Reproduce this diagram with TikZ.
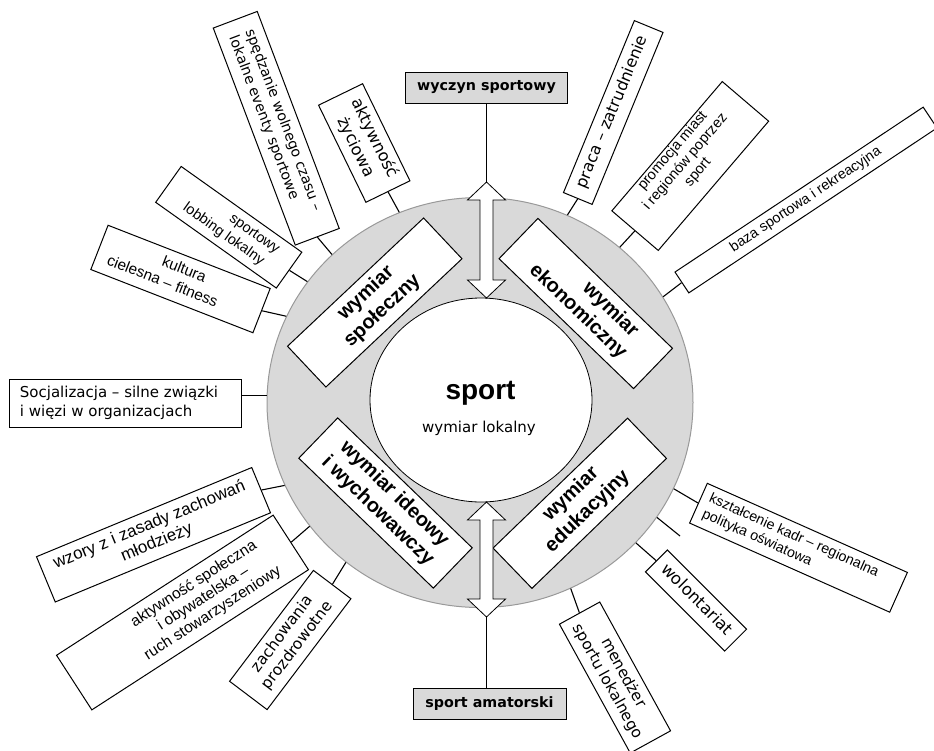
\documentclass[tikz,border=0pt]{standalone}
\usepackage{fontspec}
\setmainfont{Liberation Sans}
\newfontfamily\dejavu{DejaVu Sans}
\usetikzlibrary{shapes.geometric}
\definecolor{ringfill}{HTML}{D9D9D9}
\definecolor{ringline}{HTML}{999999}
\newcommand{\tbx}[4]{\raisebox{\dimexpr #3-0.25em\relax}[0pt][0pt]{\makebox[0pt]{\hspace*{#2}\begin{tabular}{@{}#1@{}}#4\end{tabular}}}}
\tikzset{
  obox/.style={draw, fill=white, line width=1pt, inner sep=0pt},
  dimbox/.style={obox, minimum width=187pt, minimum height=56pt, font=\fontsize{20}{24}\selectfont\bfseries},
  conn/.style={line width=1.1pt},
  gbox/.style={draw, fill=ringfill, line width=1pt, inner sep=0pt, font=\dejavu\bfseries\fontsize{14.3}{17}\selectfont},
  hollow/.style={draw, line width=0.8pt, fill=white},
}
\begin{document}
\begin{tikzpicture}[x=1pt,y=-1pt]
\useasboundingbox (0,0) rectangle (934,750);
% central rings
\node[ellipse, draw=ringline, fill=ringfill, line width=1pt, minimum width=426pt, minimum height=410pt, inner sep=0pt] (ring) at (480,402.5) {};
\node[ellipse, draw, fill=white, line width=0.8pt, minimum width=222pt, minimum height=204pt, inner sep=0pt] (core) at (481,400) {};
\node[font=\fontsize{28}{30}\selectfont\bfseries, anchor=base, inner sep=0pt] (sport) at (480.5,399) {sport};
\node[font=\dejavu\fontsize{15}{18}\selectfont, anchor=base, inner sep=0pt] (lok) at (479,432.5) {wymiar lokalny};
% dimension boxes
\node[dimbox, rotate=43.3] (spol) at (374.75,302.5) {\tbx{c}{0pt}{0pt}{wymiar\\społeczny}};
\node[dimbox, rotate=-44] (ekon) at (585.75,303.5) {\tbx{c}{0pt}{0pt}{\hspace*{44pt}wymiar\\ekonomiczny}};
\node[dimbox, rotate=-44] (ideo) at (385.5,503) {\tbx{c}{0pt}{0pt}{wymiar ideowy\\i wychowawczy}};
\node[dimbox, rotate=44] (eduk) at (579.75,503.25) {\tbx{c}{0pt}{0pt}{wymiar\\edukacyjny}};
% hollow double arrows
\draw[hollow] (486.5,182) -- (505.5,200) -- (493,200) -- (493,280) -- (505.5,280) -- (486.5,298) -- (467.5,280) -- (480,280) -- (480,200) -- (467.5,200) -- cycle;
\draw[hollow] (486.5,502) -- (505.5,520) -- (493,520) -- (493,599) -- (505.5,599) -- (486.5,617) -- (467.5,599) -- (480,599) -- (480,520) -- (467.5,520) -- cycle;
\coordinate (atop) at (486.5,182);
\coordinate (abot) at (486.5,617);
\coordinate (dang) at (680,536);
% top and bottom boxes
\node[gbox, minimum width=162pt, minimum height=31pt] (wyczyn) at (486.5,87.5) {wyczyn sportowy};
\node[gbox, minimum width=153pt, minimum height=31pt] (amat) at (489.5,703.5) {sport amatorski};
\draw[conn] (wyczyn.south) -- (atop);
\draw[conn] (abot) -- (abot |- amat.north);
% outer boxes
\node[obox, rotate=-69.3, minimum width=232pt, minimum height=47pt, font=\dejavu\fontsize{14.2}{17.5}\selectfont] (b1) at (276.25,128.25) {\tbx{l}{-10pt}{0pt}{spędzanie wolnego czasu –\\lokalne eventy sportowe}};
\node[obox, rotate=-64, minimum width=108pt, minimum height=49pt, font=\dejavu\fontsize{16.3}{21}\selectfont] (b2) at (364.25,143) {\tbx{c}{0pt}{0pt}{aktywność\\życiowa}};
\node[obox, rotate=-35.4, minimum width=148pt, minimum height=44pt, font=\fontsize{14.5}{18}\selectfont] (b3) at (228.75,227.25) {\tbx{c}{0pt}{0pt}{\hspace*{50pt}sportowy\\lobbing lokalny}};
\node[obox, rotate=-21.3, minimum width=174pt, minimum height=47.5pt, font=\fontsize{15.3}{19}\selectfont] (b4) at (180.5,279) {\tbx{c}{0pt}{0pt}{kultura\\cielesna – fitness\hspace*{32pt}}};
\node[obox, minimum width=232pt, minimum height=48pt, font=\dejavu\fontsize{15}{19}\selectfont] (b5) at (125,403) {\tbx{l}{-12pt}{0pt}{Socjalizacja – silne związki\\i więzi w organizacjach}};
\node[obox, rotate=32.9, minimum width=258pt, minimum height=65pt, font=\fontsize{15.5}{17.5}\selectfont] (b7) at (182.5,612.5) {\tbx{c}{50pt}{0pt}{aktywność społeczna\\i obywatelska –\\ruch stowarzyszeniowy}};
\node[obox, rotate=22.5, minimum width=233pt, minimum height=49pt, font=\fontsize{17}{19}\selectfont] (b6) at (153.5,534.75) {\tbx{c}{0pt}{0pt}{wzory z i zasady zachowań\\młodzieży}};
\node[obox, rotate=52.9, minimum width=139pt, minimum height=47pt, font=\dejavu\fontsize{15.5}{19}\selectfont] (b8) at (290.25,640) {\tbx{c}{0pt}{0pt}{zachowania\\prozdrowotne}};
\node[obox, rotate=-24, minimum width=219pt, minimum height=43.5pt, font=\fontsize{14.2}{17}\selectfont] (b9) at (798.5,547.75) {\tbx{l}{-18pt}{0pt}{kształcenie kadr – regionalna\\polityka oświatowa}};
\node[obox, rotate=-45, minimum width=112pt, minimum height=31pt, font=\dejavu\fontsize{16.5}{20}\selectfont] (b10) at (696,600.5) {\tbx{c}{0pt}{0pt}{wolontariat}};
\node[obox, rotate=-61.2, minimum width=147pt, minimum height=46pt, font=\dejavu\fontsize{15.3}{18}\selectfont] (b11) at (615,677.5) {\tbx{c}{0pt}{0pt}{menedżer\\sportu lokalnego}};
\node[obox, rotate=67.6, minimum width=186pt, minimum height=31pt, font=\dejavu\fontsize{16}{19}\selectfont] (b12) at (613.25,112.5) {\tbx{c}{0pt}{0pt}{praca – zatrudnienie}};
\node[obox, rotate=49.5, minimum width=170pt, minimum height=61pt, font=\fontsize{14.5}{16.5}\selectfont] (b13) at (690.25,166) {\tbx{c}{0pt}{6pt}{promocja miast\\i regionów poprzez\\sport}};
\node[obox, rotate=33.6, minimum width=298pt, minimum height=25pt, font=\fontsize{14.3}{17}\selectfont] (b14) at (806,200) {\tbx{c}{0pt}{0pt}{baza sportowa i rekreacyjna}};
% connectors
\draw[conn] (b1.east) -- (ring.135.2);
\draw[conn] (b2.east) -- (ring.113.7);
\draw[conn] (b3.east) -- (ring.145.3);
\draw[conn] (b4.east) -- (ring.156.7);
\draw[conn] (ring.178.7) -- (ring.178.7 -| b5.east);
\draw[conn] (b6.east) -- (ring.203.5);
\draw[conn] (b7.east) -- (ring.216.5);
\draw[conn] (b8.east) -- (ring.230.4);
\draw[conn] (b9.west) -- (ring.-24);
\draw[conn] (ring.-33.7) -- (dang);
\draw[conn] (b10.west) -- (ring.-42.7);
\draw[conn] (b11.west) -- (ring.-64.7);
\draw[conn] (b12.west) -- (ring.65);
\draw[conn] (b13.west) -- (ring.48.3);
\draw[conn] (b14.west) -- (ring.30.3);
\end{tikzpicture}
\end{document}
